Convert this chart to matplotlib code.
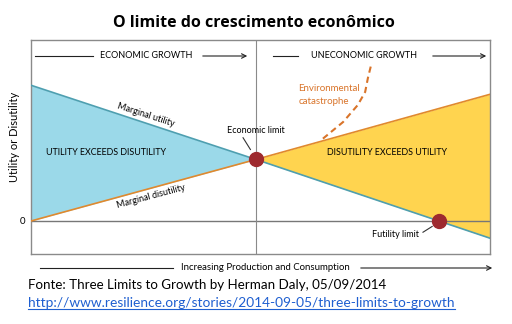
import matplotlib
matplotlib.use("Agg")
import matplotlib.pyplot as plt
import numpy as np

# production / consumption (arbitrary units), economic limit at 4.9
quantity = [0.0, 4.9, 10.0]
marginal_utility = [7.5, 3.4, -0.95]
marginal_disutility = [0.0, 3.4, 7.0]
economic_limit = (4.9, 3.4)
futility_limit = (8.89, 0.0)
# dashed "environmental catastrophe" branch
catastrophe_x = [6.36, 6.80, 7.12, 7.28, 7.34, 7.41]
catastrophe_y = [4.55, 5.47, 6.41, 7.13, 7.90, 8.62]

BLUE_FILL = "#9BD9E9"
YELLOW_FILL = "#FFD44F"
BLUE_LINE = "#4E9FB0"
ORANGE_LINE = "#E0892E"
DOT = "#9E2A2F"
GRAY = "#8a8a8a"
FONT = "Lato"

fig = plt.figure(figsize=(5.12, 3.24), dpi=100)
ax = fig.add_axes([31 / 512, 70 / 324, 459 / 512, 214 / 324])
ax.set_xlim(0, 10)
ax.set_ylim(-1.823, 10)
ax.set_xticks([])
ax.set_yticks([])
for s in ax.spines.values():
    s.set_color(GRAY)
    s.set_linewidth(1.0)

# shaded regions
ax.fill_between(quantity[:2], marginal_utility[:2], marginal_disutility[:2],
                color=BLUE_FILL, lw=0, zorder=1)
ax.fill_between(quantity[1:], marginal_utility[1:], marginal_disutility[1:],
                color=YELLOW_FILL, lw=0, zorder=1)

ax.axhline(0, color="#777777", lw=1.0, zorder=2)
ax.axvline(economic_limit[0], color=GRAY, lw=0.8, zorder=2)

ax.plot(quantity, marginal_utility, color=BLUE_LINE, lw=1.2, zorder=3)
ax.plot(quantity, marginal_disutility, color=ORANGE_LINE, lw=1.2, zorder=3)
ax.plot(catastrophe_x, catastrophe_y, color="#D9742A", lw=1.5,
        linestyle=(0, (3, 2)), zorder=3)

ax.plot(*economic_limit, "o", ms=10, color=DOT, zorder=5)
ax.plot(*futility_limit, "o", ms=10, color=DOT, zorder=5)

# region and curve labels
ax.text(1.63, 3.76, "UTILITY EXCEEDS DISUTILITY", fontsize=6.4, family=FONT,
        ha="center", va="center")
ax.text(7.76, 3.76, "DISUTILITY EXCEEDS UTILITY", fontsize=6.4, family=FONT,
        ha="center", va="center")
ax.text(2.5, 5.85, "Marginal utility", fontsize=6.5, family=FONT,
        ha="center", va="center", rotation=-18)
ax.text(2.62, 1.38, "Marginal disutility", fontsize=6.5, family=FONT,
        ha="center", va="center", rotation=15)
ax.text(4.9, 5.0, "Economic limit", fontsize=6.5, family=FONT,
        ha="center", va="center")
ax.plot([4.62, 4.78], [4.6, 3.95], color="#333333", lw=0.8)
ax.text(5.82, 6.96, "Environmental\ncatastrophe", fontsize=7, family=FONT,
        color="#D9742A", ha="left", va="center", linespacing=1.45)
ax.text(7.95, -0.72, "Futility limit", fontsize=6.5, family=FONT,
        ha="center", va="center")
ax.plot([8.54, 8.74], [-0.62, -0.3], color="#333333", lw=0.8)

ax.text(-0.025, 4.64, "Utility or Disutility", fontsize=8, family=FONT,
        rotation=90, ha="right", va="center", transform=ax.get_yaxis_transform())
ax.text(-0.012, 0.0, "0", fontsize=7, family=FONT, ha="right", va="center",
        transform=ax.get_yaxis_transform())


def arrow_label(x0, x1, y, t0, t1, label, size=6.5):
    # line - label - arrow, in figure pixels
    fig.add_artist(plt.Line2D([x0 / 512, t0 / 512], [1 - y / 324] * 2,
                              color="#222222", lw=0.8))
    fig.text((t0 + t1) / 2 / 512, 1 - y / 324, label, fontsize=size, family=FONT,
             ha="center", va="center")
    fig.add_artist(matplotlib.patches.FancyArrowPatch(
        (t1 / 512, 1 - y / 324), (x1 / 512, 1 - y / 324),
        transform=fig.transFigure, arrowstyle="->", mutation_scale=8,
        color="#222222", lw=0.8))


arrow_label(35, 250, 56, 93, 200, "ECONOMIC GROWTH")
arrow_label(273, 489, 56, 298, 430, "UNECONOMIC GROWTH")
arrow_label(40, 495, 268, 173, 358, "Increasing Production and Consumption", 6.9)

fig.text(254 / 512, 1 - 23 / 324, "O limite do crescimento econômico",
         fontsize=11.5, family="Open Sans", weight="bold", ha="center", va="center")
fig.text(28 / 512, 1 - 285 / 324,
         "Fonte: Three Limits to Growth by Herman Daly, 05/09/2014",
         fontsize=9.6, family=FONT, ha="left", va="center")
link = fig.text(28 / 512, 1 - 303 / 324,
                "http://www.resilience.org/stories/2014-09-05/three-limits-to-growth",
                fontsize=9.9, family=FONT, color="#1F5FD0", ha="left", va="center")
fig.canvas.draw()
bb = link.get_window_extent()
fig.add_artist(plt.Line2D([bb.x0 / 512, bb.x1 / 512], [1 - 309 / 324] * 2,
                          color="#1F5FD0", lw=0.8))

fig.savefig("out.png", dpi=100)
